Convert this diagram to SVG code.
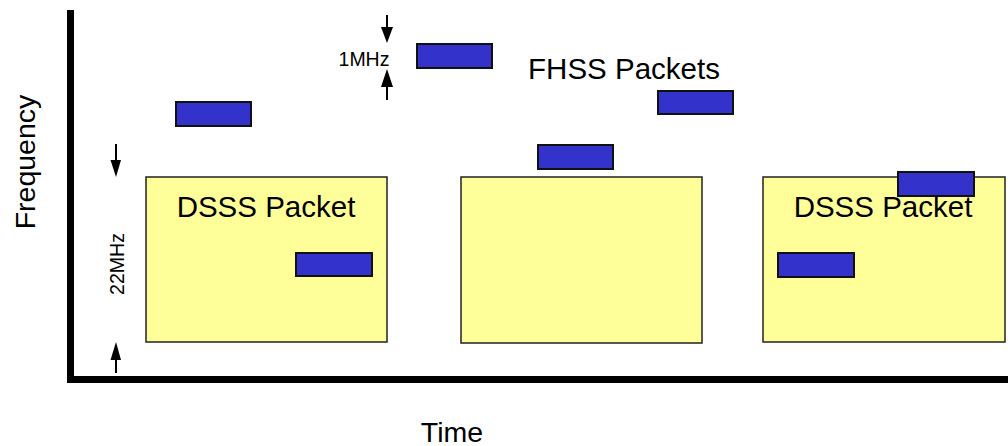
<svg xmlns="http://www.w3.org/2000/svg" width="1008" height="446" viewBox="0 0 1008 446">
<style>
.dsss{fill:#FFFF99;stroke:#222;stroke-width:1.5}
.fhss{fill:#3333CC;stroke:#111;stroke-width:2}
text{font-family:"Liberation Sans",Arial,sans-serif;fill:#000}
.big{font-size:29.5px;text-anchor:middle}
.ax{font-size:28.5px;text-anchor:middle}
.sm{font-size:19.5px;text-anchor:middle}
.arr{stroke:#000;stroke-width:2;fill:none}
</style>
<rect width="1008" height="446" fill="#fff"/>
<g id="axes">
<rect x="67" y="10" width="7" height="373" fill="#000"/>
<rect x="67" y="376" width="941" height="7" fill="#000"/>
</g>
<g id="dsss1"><rect class="dsss" x="146" y="177" width="241" height="165"/><text class="big" x="266" y="217">DSSS Packet</text></g>
<g id="dsss2"><rect class="dsss" x="461" y="177" width="241" height="166"/></g>
<g id="dsss3"><rect class="dsss" x="763" y="177" width="242" height="165"/><text class="big" x="883" y="217">DSSS Packet</text></g>
<g id="p1"><rect class="fhss" x="176" y="102" width="75" height="24"/></g>
<g id="p2"><rect class="fhss" x="296" y="253" width="76" height="23"/></g>
<g id="p3"><rect class="fhss" x="417" y="44" width="75" height="24"/></g>
<g id="p4"><rect class="fhss" x="538" y="145" width="75" height="24"/></g>
<g id="p5"><rect class="fhss" x="658" y="91" width="75" height="23"/></g>
<g id="p6"><rect class="fhss" x="778" y="253" width="76" height="24"/></g>
<g id="p7"><rect class="fhss" x="898" y="172" width="76" height="24"/></g>
<g id="labels">
<text class="big" x="624" y="79">FHSS Packets</text>
<text class="ax" x="452" y="442">Time</text>
<text class="ax" transform="translate(35,162) rotate(-90)">Frequency</text>
<text class="sm" x="364" y="66">1MHz</text>
<text class="sm" transform="translate(124,264) rotate(-90)">22MHz</text>
</g>
<g id="connectors">
<line class="arr" x1="387" y1="15" x2="387" y2="30"/>
<polygon points="381,27 393,27 387,43" fill="#000"/>
<line class="arr" x1="387" y1="85" x2="387" y2="100"/>
<polygon points="381,87 393,87 387,69" fill="#000"/>
<line class="arr" x1="116" y1="144" x2="116" y2="162"/>
<polygon points="110.5,160 121,160 116,177" fill="#000"/>
<line class="arr" x1="116" y1="358" x2="116" y2="373"/>
<polygon points="110.5,360 121,360 116,342" fill="#000"/>
</g>
</svg>
